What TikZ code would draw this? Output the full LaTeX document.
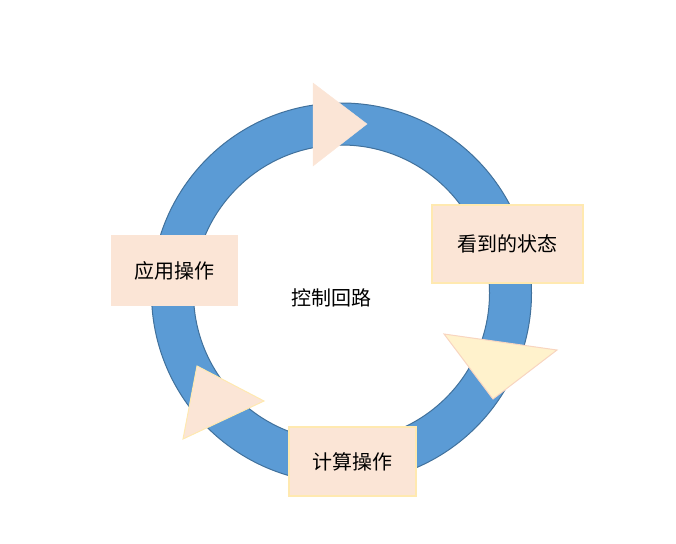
\documentclass[tikz,border=0pt]{standalone}
\usepackage{fontspec}
\newfontfamily\cjk{Noto Sans CJK SC}
\usetikzlibrary{positioning}
\definecolor{ringblue}{HTML}{5B9BD5}
\definecolor{ringedge}{HTML}{41719C}
\definecolor{peach}{HTML}{FBE5D6}
\definecolor{cream}{HTML}{FFF2CC}
\definecolor{creamedge}{HTML}{FFE9B0}
\definecolor{peachedge}{HTML}{F8D5C0}

\begin{document}
\begin{tikzpicture}[x=1pt, y=-1pt,
    stepbox/.style={fill=peach, draw=creamedge, line width=1.2pt, inner sep=0pt,
        font=\cjk\fontsize{20}{20}\selectfont}]
    \useasboundingbox (0,0) rectangle (676,543);

    % loop ring
    \draw[fill=ringblue, draw=ringedge, line width=1pt, even odd rule]
        (341.5,293) circle (190pt) (341.5,293) circle (148pt);

    % arrow heads on the ring
    \draw[fill=peach, draw=peach] (313,83) -- (367,124) -- (313,166) -- cycle;
    \draw[fill=cream, draw=peachedge, line width=1pt] (444,334) -- (557,350) -- (493,399) -- cycle;
    \draw[fill=peach, draw=creamedge, line width=1pt] (197,366) -- (264,401) -- (183,439) -- cycle;

    % steps
    \node[stepbox, minimum width=151pt, minimum height=78pt] (see) at (507.5,244) {看到的状态};
    \node[stepbox, draw=peach, minimum width=125pt, minimum height=69pt] (apply) at (174.5,270.5) {应用操作};
    \node[stepbox, minimum width=127pt, minimum height=69pt] (calc) at (352.5,461.5) {计算操作};

    \node[font=\cjk\fontsize{20}{20}\selectfont] (loop) at (331.5,298) {控制回路};
\end{tikzpicture}
\end{document}
